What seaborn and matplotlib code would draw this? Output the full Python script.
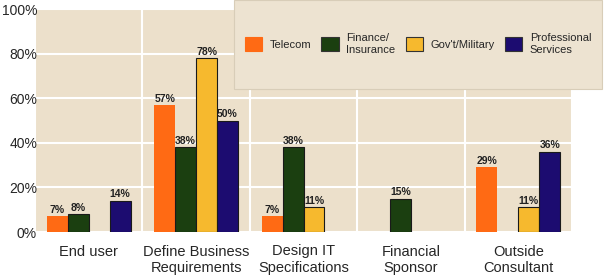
import numpy as np
import pandas as pd
import matplotlib.pyplot as plt
import seaborn as sns
from matplotlib.patches import Rectangle

# data
roles = ["End user", "Define Business\nRequirements", "Design IT\nSpecifications",
         "Financial\nSponsor", "Outside\nConsultant"]
sectors = ["Telecom", "Finance/\nInsurance", "Gov't/Military", "Professional\nServices"]
telecom = [7, 57, 7, np.nan, 29]
finance = [8, 38, 38, 15, np.nan]
gov = [np.nan, 78, 11, np.nan, 11]
prof = [14, 50, np.nan, np.nan, 36]
colors = ["#FF6A14", "#1B3F10", "#F6B92E", "#1C0C70"]

rows = []
for sector, vals in zip(sectors, [telecom, finance, gov, prof]):
    for role, v in zip(roles, vals):
        rows.append({"role": role, "sector": sector, "pct": v})
df = pd.DataFrame(rows)

sns.set_theme(style="white")
plt.rcParams["font.family"] = ["Liberation Sans", "DejaVu Sans"]

fig = plt.figure(figsize=(6.06, 2.8), dpi=100)
ax = fig.add_axes([35 / 606, 48 / 280, 537 / 606, 223 / 280])
ax.set_facecolor("#ECE0CB")

sns.barplot(data=df, x="role", y="pct", hue="sector", order=roles, hue_order=sectors,
            palette=colors, width=0.78, saturation=1, errorbar=None, ax=ax, legend=False)

for i, cont in enumerate(ax.containers):
    for bar in cont:
        if i == 0:
            bar.set_edgecolor(bar.get_facecolor())
            bar.set_linewidth(0)
        else:
            bar.set_edgecolor("#1a1a1a")
            bar.set_linewidth(0.8)
    ax.bar_label(cont, labels=["" if np.isnan(v) else f"{v:.0f}%" for v in cont.datavalues],
                 fontsize=7.5, fontweight="bold", color="#222222", padding=1)

ax.set_ylim(0, 100)
ax.set_xlim(-0.5, len(roles) - 0.5)
ax.set_yticks(range(0, 101, 20))
ax.set_yticklabels([f"{v}%" for v in range(0, 101, 20)], fontsize=10)
ax.set_xticks(range(len(roles)))
ax.set_xticklabels(roles, fontsize=10.5, linespacing=1.2)
ax.set_xticks(np.arange(-0.5, len(roles)), minor=True)
ax.tick_params(axis="x", which="major", length=0, pad=9)
ax.tick_params(axis="x", which="minor", length=4, width=1, color="#777777", direction="out")
ax.tick_params(axis="y", length=0, pad=-1.5)
ax.grid(axis="y", color="white", lw=1.5)
ax.grid(axis="x", which="minor", color="white", lw=1.5)
ax.set_axisbelow(True)
ax.set_xlabel("")
ax.set_ylabel("")
for s in ax.spines.values():
    s.set_visible(False)
ax.get_yticklabels()[-1].set_va("center_baseline")

# legend box
fig.patches.append(Rectangle((234 / 606, 191 / 280), 368 / 606, 89 / 280,
                             transform=fig.transFigure, facecolor="#EDE3D1",
                             edgecolor="#D8CDB8", lw=0.8, zorder=5))
handles = [Rectangle((0, 0), 1, 1, facecolor=c, edgecolor="#333333" if k else c, lw=0.8)
           for k, c in enumerate(colors)]
fig.legend(handles, sectors, loc="center", bbox_to_anchor=(418 / 606, 236 / 280),
           ncol=4, frameon=False, fontsize=8, handlelength=1.55, handleheight=1.55,
           handletextpad=0.7, columnspacing=0.9)

fig.savefig("out.png", dpi=100)
